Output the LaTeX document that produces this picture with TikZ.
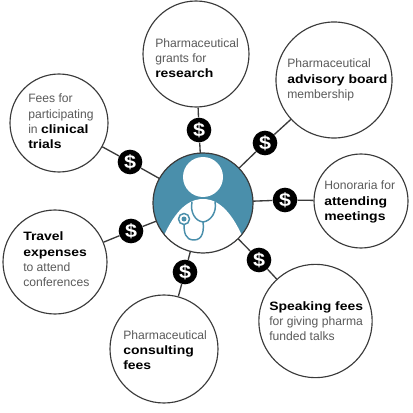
\documentclass[tikz,border=0pt]{standalone}
\usepackage{fontspec}
\setmainfont{Liberation Sans}[BoldFeatures={FakeStretch=1.15}]
\usepackage{xcolor}
\definecolor{docteal}{HTML}{4A8FAB}
\definecolor{rimgray}{HTML}{3A3A3A}
\definecolor{txtgray}{HTML}{5A5A5A}
\newcommand{\kw}[1]{\textbf{\textcolor{black}{#1}}}

\begin{document}
\begin{tikzpicture}[
  x=0.75pt, y=-0.75pt,
  bubble/.style={draw=rimgray, circle, line width=0.85pt, fill=white, inner sep=0pt},
  fee/.style={circle, fill=black, minimum size=18.5pt, inner sep=0pt, text=white,
    font=\fontsize{14}{14}\selectfont\bfseries},
  caption/.style={anchor=west, inner sep=0pt, align=left, text=txtgray,
    font=\fontsize{9.1}{11.5}\selectfont},
  link/.style={draw=rimgray, line width=1pt},
  tube/.style={draw=docteal, line width=1.1pt, line cap=round}
]
\useasboundingbox (0,0) rectangle (412,413);

% Doctor in the middle
\node[circle, minimum size=75pt, inner sep=0pt] (doc) at (203,203) {};
\begin{scope}
  \clip (203,203) circle [radius=50];
  \fill[docteal] (150,150) rectangle (256,256);
  \fill[white] (158,250) .. controls (170,218) and (184,199) .. (203,199)
    .. controls (222,199) and (236,218) .. (248,250) -- (203,262) -- cycle;
\end{scope}
\fill[white] (203,177) circle [radius=20];
\draw[rimgray, line width=0.9pt] (203,203) circle [radius=50];

% Stethoscope
\draw[tube] (192,202) .. controls (190,212) and (195,221) .. (203,222)
  .. controls (211,221) and (217,212) .. (215,202);
\draw[tube] (203,222) .. controls (204,230) and (203,240) .. (194,240)
  .. controls (185,240) and (184,232) .. (184,224);
\draw[tube, fill=white] (184,219) circle [radius=5.5];
\fill[docteal] (184,219) circle [radius=2.5];

% Fee bubbles
\node[bubble, minimum size=79.5pt] (research) at (196,54) {};
\node[bubble, minimum size=87pt] (advisory) at (334,80) {};
\node[bubble, minimum size=73.5pt] (trials) at (59,123) {};
\node[bubble, minimum size=70.5pt] (honoraria) at (361,201) {};
\node[bubble, minimum size=78pt] (travel) at (55,262) {};
\node[bubble, minimum size=81pt] (consulting) at (164,349) {};
\node[bubble, minimum size=85pt] (speaking) at (315.5,321) {};

% Texts
\node[caption] (researchtext) at (155,58) {Pharmaceutical\\grants for\\\kw{research}};
\node[caption] (advisorytext) at (287,80) {Pharmaceutical\\\kw{advisory board}\\membership};
\node[caption] (trialstext) at (28,121.5) {Fees for\\participating\\in \kw{clinical}\\\kw{trials}};
\node[caption] (honorariatext) at (324,202) {Honoraria for\\\kw{attending}\\\kw{meetings}};
\node[caption] (traveltext) at (23,259.5) {\kw{Travel}\\\kw{expenses}\\to attend\\conferences};
\node[caption] (consultingtext) at (123,350) {Pharmaceutical\\\kw{consulting}\\\kw{fees}};
\node[caption] (speakingtext) at (269,321) {\kw{Speaking fees}\\for giving pharma\\funded talks};

% Dollar signs
\node[fee] (d1) at (199,130) {\$};
\node[fee] (d2) at (265,143) {\$};
\node[fee] (d3) at (130,162) {\$};
\node[fee] (d4) at (285,200) {\$};
\node[fee] (d5) at (131,231) {\$};
\node[fee] (d6) at (185,272) {\$};
\node[fee] (d7) at (259,260) {\$};

% Links
\draw[link] (doc) -- (d1) -- (research);
\draw[link] (doc) -- (d2) -- (advisory);
\draw[link] (doc) -- (d3) -- (trials);
\draw[link] (doc) -- (d4) -- (honoraria);
\draw[link] (doc) -- (d5) -- (travel);
\draw[link] (doc) -- (d6) -- (consulting);
\draw[link] (doc) -- (d7) -- (speaking);

\end{tikzpicture}
\end{document}
